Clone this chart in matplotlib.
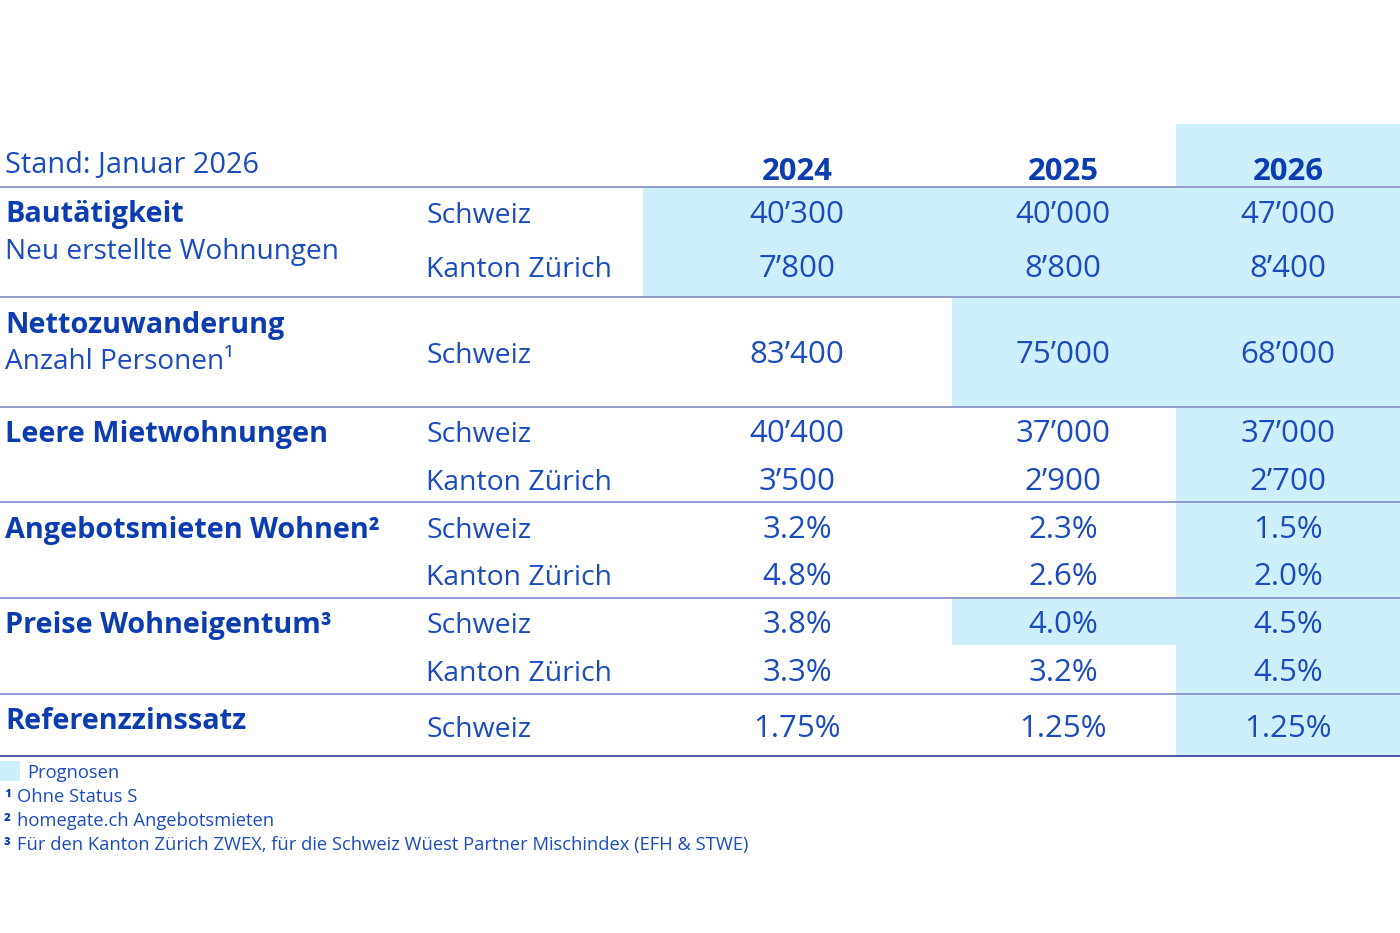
import matplotlib
matplotlib.use("Agg")
import matplotlib.pyplot as plt
from matplotlib.patches import Rectangle

# ---------------- data ----------------
stand_label = "Stand: Januar 2026"
years = ["2024", "2025", "2026"]

categories = ["Bautätigkeit", "Nettozuwanderung", "Leere Mietwohnungen",
              "Angebotsmieten Wohnen²", "Preise Wohneigentum³", "Referenzzinssatz"]
subtitles = ["Neu erstellte Wohnungen", "Anzahl Personen¹", "", "", "", ""]

row_category = [0, 0, 1, 2, 2, 3, 3, 4, 4, 5]
row_region = ["Schweiz", "Kanton Zürich", "Schweiz", "Schweiz", "Kanton Zürich",
              "Schweiz", "Kanton Zürich", "Schweiz", "Kanton Zürich", "Schweiz"]
val_2024 = ["40’300", "7’800", "83’400", "40’400", "3’500", "3.2%", "4.8%", "3.8%", "3.3%", "1.75%"]
val_2025 = ["40’000", "8’800", "75’000", "37’000", "2’900", "2.3%", "2.6%", "4.0%", "3.2%", "1.25%"]
val_2026 = ["47’000", "8’400", "68’000", "37’000", "2’700", "1.5%", "2.0%", "4.5%", "4.5%", "1.25%"]
# forecast flags (shaded cells)
fc_2024 = [1, 1, 0, 0, 0, 0, 0, 0, 0, 0]
fc_2025 = [1, 1, 1, 0, 0, 0, 0, 1, 0, 0]
fc_2026 = [1, 1, 1, 1, 1, 1, 1, 1, 1, 1]

legend_label = "Prognosen"
footnotes = ["Ohne Status S", "homegate.ch Angebotsmieten",
             "Für den Kanton Zürich ZWEX, für die Schweiz Wüest Partner Mischindex (EFH & STWE)"]
footnote_marks = ["¹", "²", "³"]

# ---------------- layout (pixels) ----------------
W, H = 1400, 933
FONT = ["Open Sans", "DejaVu Sans"]
C_TXT = "#1a4cc0"
C_BOLD = "#0b3db0"
C_SHADE = "#cdf0fc"
C_RULE = "#8e93ca"
C_BOTTOM = "#2b3ba0"

col_left = [643, 952, 1176]
col_right = [952, 1176, 1400]
col_center = [797, 1063, 1288]
x_label = 5
x_region = 426

row_top = [187, 242, 297, 407, 455, 502, 550, 598, 645, 694]
row_bot = [242, 297, 407, 455, 502, 550, 598, 645, 694, 756]
row_base = [223, 277, 363, 442, 490, 538, 585, 633, 681, 737]
cat_base = [222, 333, 442, 538, 633, 729]
sub_base = [259, 369]
group_lines = [187, 297, 407, 502, 598, 694]

FS_VAL = 22.5
FS_REG = 20.4
FS_CAT = 20.8
FS_SUB = 20.2
FS_YEAR = 22.3
FS_NOTE = 13.2

fig = plt.figure(figsize=(W / 100, H / 100), dpi=100)
ax = fig.add_axes([0, 0, 1, 1])
ax.set_xlim(0, W)
ax.set_ylim(H, 0)
ax.axis("off")

# header shade for forecast column
ax.add_patch(Rectangle((col_left[2], 124), col_right[2] - col_left[2], 187 - 124,
                       facecolor=C_SHADE, edgecolor="none", zorder=0))

values = [val_2024, val_2025, val_2026]
flags = [fc_2024, fc_2025, fc_2026]
for r in range(len(row_region)):
    for c in range(3):
        if flags[c][r]:
            ax.add_patch(Rectangle((col_left[c], row_top[r]), col_right[c] - col_left[c],
                                   row_bot[r] - row_top[r], facecolor=C_SHADE,
                                   edgecolor="none", zorder=0))
        ax.text(col_center[c], row_base[r], values[c][r], ha="center", va="baseline",
                fontsize=FS_VAL, color=C_TXT, family=FONT, zorder=3)
    ax.text(x_region, row_base[r], row_region[r], ha="left", va="baseline",
            fontsize=FS_REG, color=C_TXT, family=FONT, zorder=3)

# header
ax.text(x_label, 173, stand_label, ha="left", va="baseline", fontsize=FS_CAT,
        color=C_TXT, family=FONT)
for c, y in enumerate(years):
    ax.text(col_center[c], 180, y, ha="center", va="baseline", fontsize=FS_YEAR,
            color=C_BOLD, family=FONT, fontweight="bold")

# category labels
for i, cat in enumerate(categories):
    ax.text(x_label, cat_base[i], cat, ha="left", va="baseline", fontsize=FS_CAT,
            color=C_BOLD, family=FONT, fontweight="bold")
    if subtitles[i]:
        ax.text(x_label, sub_base[i], subtitles[i], ha="left", va="baseline",
                fontsize=FS_SUB, color=C_TXT, family=FONT)

# rules
for y in group_lines:
    ax.plot([0, W], [y, y], color=C_RULE, lw=1.3, zorder=2, solid_capstyle="butt")
ax.plot([0, W], [756, 756], color=C_BOTTOM, lw=1.2, zorder=2, solid_capstyle="butt")

# legend + footnotes
ax.add_patch(Rectangle((0, 761), 20, 20, facecolor=C_SHADE, edgecolor="none"))
ax.text(27, 778, legend_label, ha="left", va="baseline", fontsize=FS_NOTE,
        color=C_TXT, family=FONT)
for i, (m, t) in enumerate(zip(footnote_marks, footnotes)):
    yb = 802 + i * 24
    ax.text(4, yb, m, ha="left", va="baseline", fontsize=FS_NOTE, color=C_BOLD,
            family=FONT, fontweight="bold")
    ax.text(17, yb, t, ha="left", va="baseline", fontsize=FS_NOTE, color=C_TXT,
            family=FONT)

fig.savefig("out.png", dpi=100, facecolor="white")
